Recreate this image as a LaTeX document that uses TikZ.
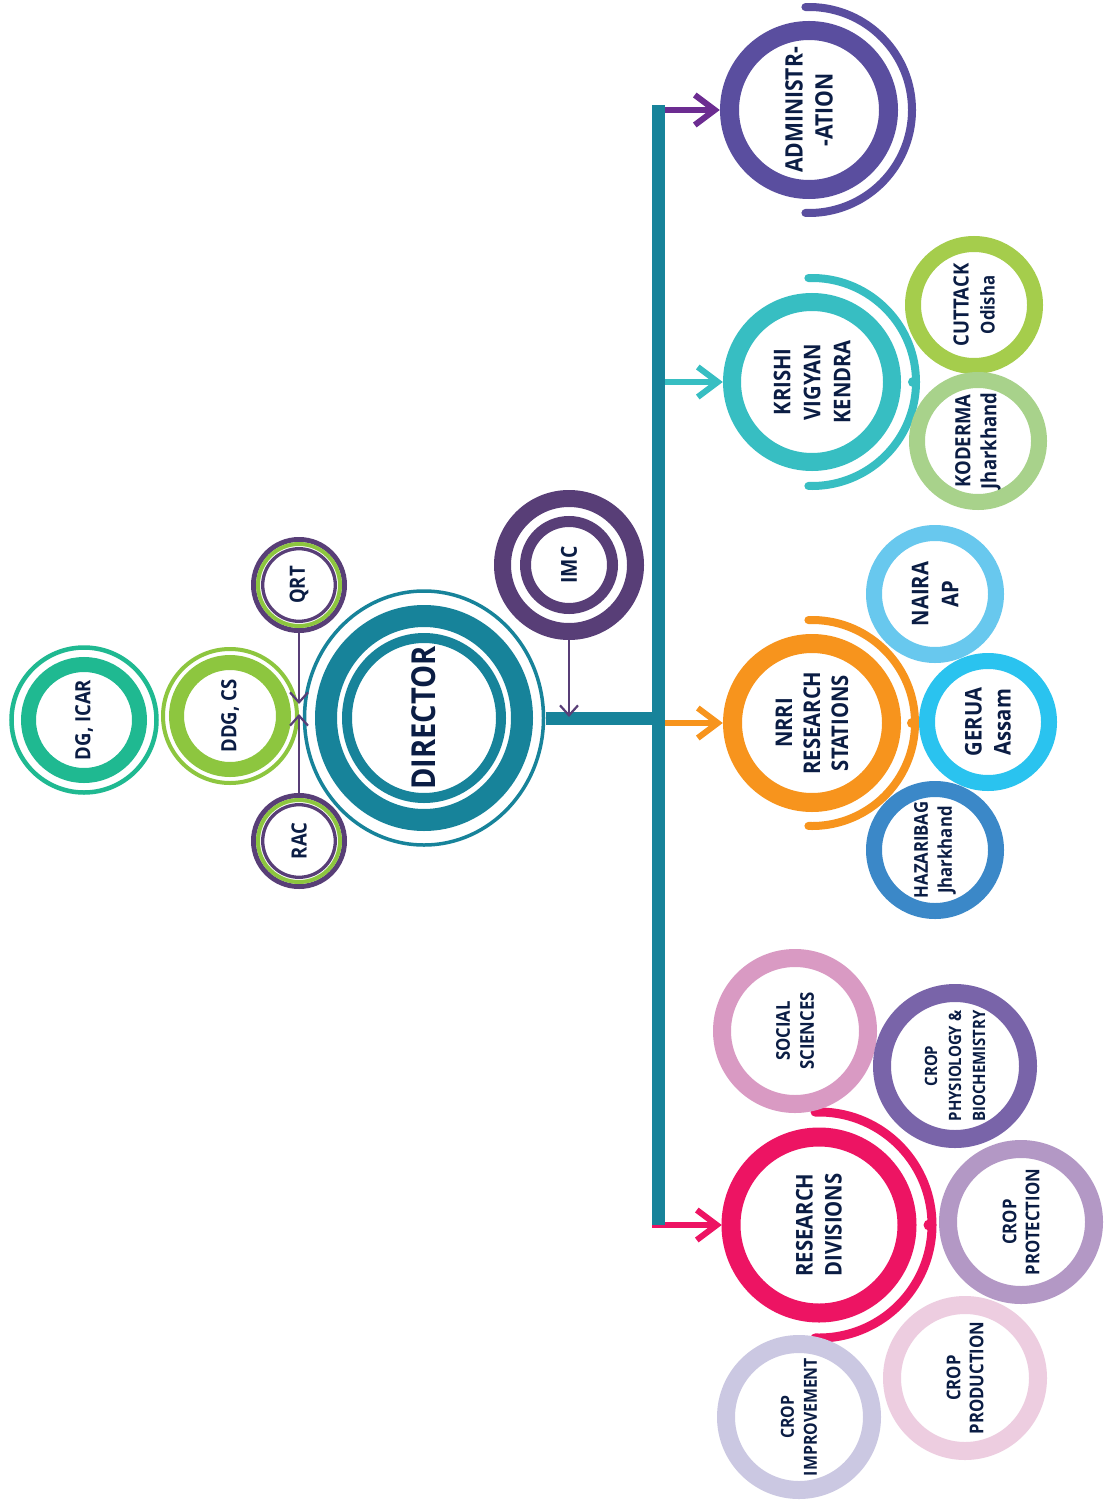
\documentclass[tikz,border=0pt]{standalone}
\usepackage{fontspec}
\newfontfamily\lblfont{Open Sans}[FakeStretch=0.88]
\usetikzlibrary{arrows.meta,shapes.geometric}
\definecolor{txt}{HTML}{0B1D44}
\definecolor{cTeal}{HTML}{17839A}
\definecolor{cDG}{HTML}{1FB991}
\definecolor{cDDG}{HTML}{8DC63F}
\definecolor{cPur}{HTML}{583E77}
\definecolor{cAdm}{HTML}{5A4E9F}
\definecolor{cAdmArr}{HTML}{6C2C91}
\definecolor{cKvk}{HTML}{37BEC2}
\definecolor{cCut}{HTML}{A5CD4C}
\definecolor{cKod}{HTML}{A8D28B}
\definecolor{cOra}{HTML}{F7941D}
\definecolor{cNai}{HTML}{68C8EE}
\definecolor{cGer}{HTML}{2AC3EF}
\definecolor{cHaz}{HTML}{3B88C8}
\definecolor{cPink}{HTML}{ED1463}
\definecolor{cSoc}{HTML}{D99AC3}
\definecolor{cPhy}{HTML}{7964A9}
\definecolor{cPro}{HTML}{B398C5}
\definecolor{cPrd}{HTML}{EDCDE0}
\definecolor{cImp}{HTML}{CBC8E2}
\newcommand\setfz[2]{\lblfont\bfseries\fontsize{#1}{#2}\selectfont}
\begin{document}
\begin{tikzpicture}[x=1pt,y=1pt,
  lab/.style={inner sep=0pt, rotate=90, align=center, text=txt},
  cnode/.style={lab, circle, minimum size=#1},
  carr/.style={line width=6pt, -{Straight Barb[length=20pt,width=30pt]}},
  sarr/.style={line width=2.2pt, cPur, -{Straight Barb[length=10pt,width=18pt]}},
  ringw/.style={line width=#1},
  arcw/.style={line width=#1, line cap=round},
]
\useasboundingbox (0,0) rectangle (1103,-1506);
\fill[white] (0,0) rectangle (1103,-1506);

% ---------- nodes ----------
\node[cnode=150pt, font=\setfz{21}{26}] (dgicar) at (84,-720) {DG, ICAR};
\node[cnode=138pt, font=\setfz{21}{26}] (ddgcs) at (230,-716) {DDG, CS};
\node[cnode=96pt, font=\setfz{21}{26}] (qrt) at (299,-585) {QRT};
\node[cnode=96pt, font=\setfz{21}{26}] (rac) at (299,-841) {RAC};
\node[lab, ellipse, minimum width=259pt, minimum height=243pt, font=\setfz{33}{40}] (dir) at (424,-718) {DIRECTOR};
\node[cnode=150pt, font=\setfz{22}{26}] (imc) at (569,-565) {IMC};
\node[cnode=178pt, font=\setfz{24}{30}] (admin) at (809,-110) {ADMINISTR-\\-ATION};
\node[cnode=178pt, font=\setfz{23}{30}] (kvk) at (812,-382) {KRISHI\\VIGYAN\\KENDRA};
\node[cnode=138pt, font=\setfz{21}{26}] (cut) at (974,-305) {CUTTACK\\{\setfz{19}{26}Odisha}};
\node[cnode=138pt, font=\setfz{21}{26}] (kod) at (978,-441) {KODERMA\\Jharkhand};
\node[cnode=178pt, font=\setfz{23}{28}] (nrri) at (812,-723) {NRRI\\RESEARCH\\STATIONS};
\node[cnode=138pt, font=\setfz{23}{30}] (naira) at (935,-594) {NAIRA\\AP};
\node[cnode=138pt, font=\setfz{23}{29}] (gerua) at (988,-722) {GERUA\\Assam};
\node[cnode=138pt, font=\setfz{19}{24}] (haz) at (935,-850) {HAZARIBAG\\Jharkhand};
\node[cnode=194pt, font=\setfz{23}{29}] (rd) at (819,-1225) {RESEARCH\\DIVISIONS};
\node[cnode=164pt, font=\setfz{19}{24}] (soc) at (795,-1031) {SOCIAL\\SCIENCES};
\node[cnode=164pt, font=\setfz{17}{24}] (phy) at (955,-1066) {CROP\\PHYSIOLOGY \&\\BIOCHEMISTRY};
\node[cnode=164pt, font=\setfz{19}{23}] (prot) at (1021,-1222) {CROP\\PROTECTION};
\node[cnode=164pt, font=\setfz{19}{23}] (prod) at (965,-1378) {CROP\\PRODUCTION};
\node[cnode=164pt, font=\setfz{18}{23}] (impr) at (799,-1417) {CROP\\IMPROVEMENT};

% ---------- rings ----------
\draw[ringw=4.5pt, cDG] (dgicar.center) circle[radius=72.5pt];
\draw[ringw=15pt, cDG] (dgicar.center) circle[radius=55.5pt];
\draw[ringw=4pt, cDDG] (ddgcs.center) circle[radius=67pt];
\draw[ringw=15pt, cDDG] (ddgcs.center) circle[radius=53.5pt];
\foreach \n in {qrt,rac}{
  \draw[ringw=5pt, cPur] (\n.center) circle[radius=45.5pt];
  \draw[ringw=4pt, cDDG] (\n.center) circle[radius=41pt];
  \draw[ringw=3.3pt, cPur] (\n.center) circle[radius=36.3pt];
}
\draw[ringw=3.5pt, cTeal] (dir.center) ellipse[x radius=119.5pt, y radius=127pt];
\draw[ringw=22pt, cTeal] (dir.center) ellipse[x radius=98pt, y radius=102pt];
\draw[ringw=10pt, cTeal] (dir.center) ellipse[x radius=77pt, y radius=80pt];
\draw[ringw=17pt, cPur] (imc.center) circle[radius=66.5pt];
\draw[ringw=11pt, cPur] (imc.center) circle[radius=43.5pt];

\draw[ringw=19pt, cAdm] (admin.center) circle[radius=79.5pt];
\draw[arcw=8pt, cAdm] (admin.center) ++(92:103pt) arc[start angle=92, end angle=-92, radius=103pt];

\draw[ringw=18pt, cKvk] (kvk.center) circle[radius=80pt];
\draw[arcw=8pt, cKvk] (kvk.center) ++(92:104pt) arc[start angle=92, end angle=-92, radius=104pt];
\fill[cKvk] (kvk.center) ++(101pt,0) circle[radius=5pt];

\draw[ringw=16pt, cCut] (cut.center) circle[radius=61pt];
\draw[ringw=16pt, cKod] (kod.center) circle[radius=61pt];

\draw[ringw=19pt, cOra] (nrri.center) circle[radius=79.5pt];
\draw[arcw=8pt, cOra] (nrri.center) ++(92:103pt) arc[start angle=92, end angle=-92, radius=103pt];
\fill[cOra] (nrri.center) ++(100pt,0) circle[radius=5pt];

\draw[ringw=16pt, cNai] (naira.center) circle[radius=61pt];
\draw[ringw=16pt, cGer] (gerua.center) circle[radius=61pt];
\draw[ringw=16pt, cHaz] (haz.center) circle[radius=61pt];

\draw[ringw=19pt, cPink] (rd.center) circle[radius=88pt];
\draw[arcw=9pt, cPink] (rd.center) ++(92:113pt) arc[start angle=92, end angle=-92, radius=113pt];
\fill[cPink] (rd.center) ++(110pt,0) circle[radius=5.5pt];

\draw[ringw=18pt, cSoc] (soc.center) circle[radius=73pt];
\draw[ringw=18pt, cPhy] (phy.center) circle[radius=73pt];
\draw[ringw=18pt, cPro] (prot.center) circle[radius=73pt];
\draw[ringw=18pt, cPrd] (prod.center) circle[radius=73pt];
\draw[ringw=18pt, cImp] (impr.center) circle[radius=73pt];

% ---------- connectors ----------
\coordinate (jAdm) at (652,-110);
\coordinate (jKvk) at (652,-382);
\coordinate (jNrri) at (652,-723);
\coordinate (jRd) at (652,-1225);
\draw[carr, cAdmArr] (jAdm) -- (admin);
\draw[carr, cKvk] (jKvk) -- (kvk);
\draw[carr, cOra] (jNrri) -- (nrri);
\draw[carr, cPink] (jRd) -- (rd);

\coordinate (tTop) at (658.5,-105);
\coordinate (tBot) at (658.5,-1225);
\coordinate (tDir) at (658.5,-718);
\draw[line width=13pt, cTeal] (tTop) -- (tBot);
\draw[line width=13pt, cTeal] (dir) -- (tDir);

\coordinate (imcTip) at (569,-717);
\coordinate (qrtTip) at (299,-704);
\coordinate (racTip) at (299,-714);
\draw[sarr] (imc) -- (imcTip);
\draw[sarr] (qrt) -- (qrtTip);
\draw[sarr] (rac) -- (racTip);
\end{tikzpicture}
\end{document}
